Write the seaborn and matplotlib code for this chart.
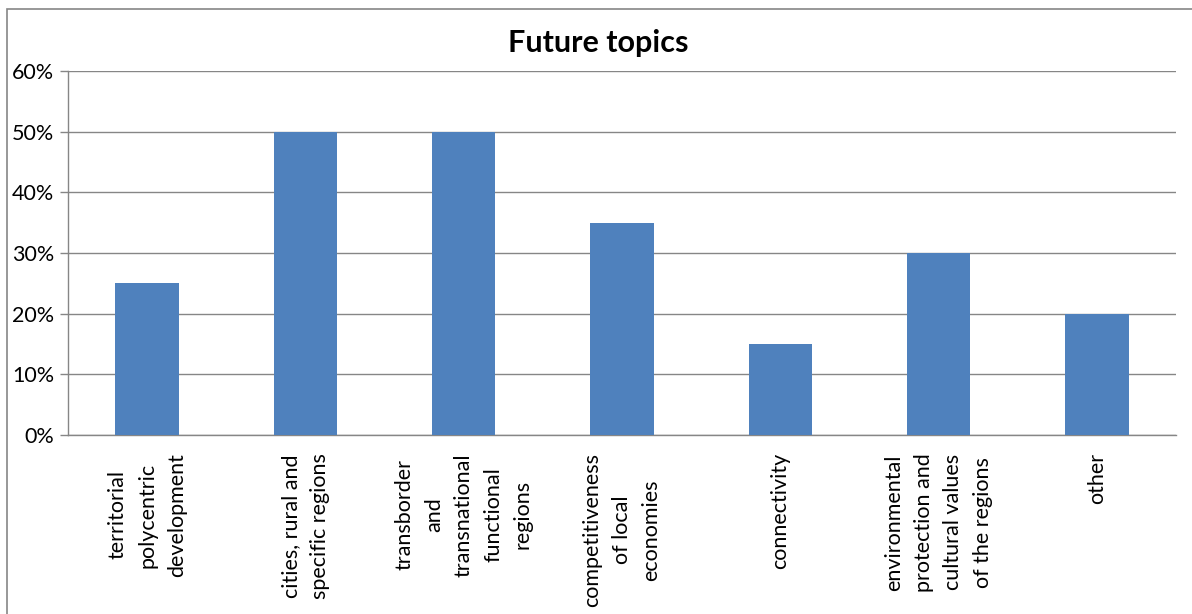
import matplotlib
matplotlib.use("Agg")
import matplotlib.pyplot as plt
from matplotlib.patches import Rectangle
from matplotlib.ticker import FixedLocator, PercentFormatter
import seaborn as sns
import pandas as pd

# Survey results: share of respondents naming each future topic
topics = [
    "territorial\npolycentric\ndevelopment",
    "cities, rural and\nspecific regions",
    "transborder\nand\ntransnational\nfunctional\nregions",
    "competitiveness\nof local\neconomies",
    "connectivity",
    "environmental\nprotection and\ncultural values\nof the regions",
    "other",
]
shares = [25, 50, 50, 35, 15, 30, 20]
y_ticks = [0, 10, 20, 30, 40, 50, 60]

df = pd.DataFrame({"topic": topics, "share": shares})

sns.set_theme(style="white")
plt.rcParams["font.family"] = ["Lato", "DejaVu Sans"]
plt.rcParams["text.color"] = "black"

fig = plt.figure(figsize=(11.92, 6.14), dpi=100)
ax = fig.add_axes([68 / 1192, 1 - 435 / 614, (1176 - 68) / 1192, (435 - 71) / 614])

# Chart-area frame (extends past the right and bottom edges)
fig.patches.append(Rectangle((7 / 1192, -0.1), 1.2, 1 - 9 / 614 + 0.1,
                             transform=fig.transFigure, fill=False,
                             edgecolor="#868686", linewidth=1.2, zorder=0))

sns.barplot(data=df, x="topic", y="share", color="#4F81BD", width=0.4,
            saturation=1, linewidth=0, ax=ax, zorder=3)

ax.set_xlim(-0.5, len(topics) - 0.5)
ax.set_ylim(0, 60)
ax.yaxis.set_major_locator(FixedLocator(y_ticks))
ax.yaxis.set_major_formatter(PercentFormatter(decimals=0))
ax.grid(axis="y", color="#868686", linewidth=1.0, zorder=0)
ax.set_axisbelow(True)

for side in ["top", "right"]:
    ax.spines[side].set_visible(False)
for side in ["left", "bottom"]:
    ax.spines[side].set_color("#868686")
    ax.spines[side].set_linewidth(1.0)

ax.set_xlabel("")
ax.set_ylabel("")

# Category labels centred, tick marks at the category boundaries
ax.set_xticks(range(len(topics)))
ax.set_xticklabels(topics, rotation=90, ma="center", fontsize=15.5, linespacing=1.6)
ax.tick_params(axis="x", which="major", length=0, pad=13, labelcolor="black")
ax.set_xticks([i - 0.5 for i in range(len(topics) + 1)], minor=True)
ax.tick_params(axis="x", which="minor", length=6, width=1.0, color="#868686", direction="out")
ax.tick_params(axis="y", length=6, width=1.0, color="#868686", direction="out",
               labelsize=15.5, pad=4, left=True, labelcolor="black")

fig.text(598 / 1192, 1 - 43 / 614, "Future topics", ha="center", va="center",
         fontsize=22, fontweight="bold", color="black")

fig.savefig("out.png", dpi=100, facecolor="white")
